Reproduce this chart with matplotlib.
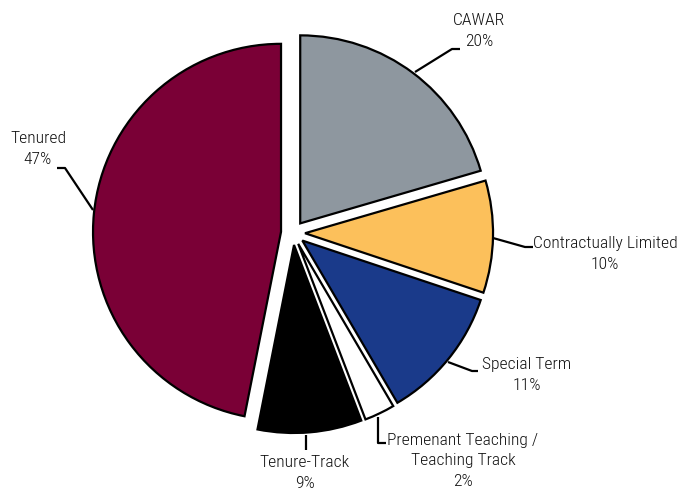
import os
import matplotlib
matplotlib.use("Agg")
import matplotlib.pyplot as plt
from matplotlib import font_manager as fm
from matplotlib.textpath import TextPath

categories = ["CAWAR", "Contractually Limited", "Special Term",
              "Premenant Teaching /\nTeaching Track", "Tenure-Track", "Tenured"]
values = [20.4, 9.6, 11.4, 2.6, 8.9, 46.7]
pct_labels = ["20%", "10%", "11%", "2%", "9%", "47%"]
colors = ["#8E979F", "#FCC05B", "#1A3A8A", "#FFFFFF", "#000000", "#7A0036"]

DPI = 100
REF_W = 142.0  # target pixel width of "Contractually Limited"


def width_px(fp, s):
    return TextPath((0, 0), s, prop=fp).get_extents().width * DPI / 72.0


# choose a condensed sans font, in order of preference (light weight first)
fname = None
for f in fm.fontManager.ttflist:
    if f.name == "Roboto Condensed" and f.style == "normal" and f.weight in (300, "light"):
        fname = f.fname
        break
if fname is None:
    preferred = ["Roboto Condensed", "Liberation Sans Narrow", "Open Sans Condensed",
                 "Noto Sans Condensed", "Arial Narrow"]
    names = {f.name: f for f in fm.fontManager.ttflist
             if f.style == "normal" and f.weight in (400, "normal", "regular")}
    for p in preferred:
        if p in names:
            fname = names[p].fname
            break
if fname is None:
    for f in fm.fontManager.ttflist:
        if os.path.basename(f.fname) == "DejaVuSansCondensed.ttf":
            fname = f.fname
            break

if fname is not None:
    base = fm.FontProperties(fname=fname, size=10)
else:
    base = fm.FontProperties(family="Roboto", size=10)
size = min(10 * REF_W / width_px(base, "Contractually Limited"), 13.5)
if fname is not None:
    fprop = fm.FontProperties(fname=fname, size=size)
else:
    fprop = fm.FontProperties(family=["Roboto", "DejaVu Sans"], size=size)

W, H = 684, 493
fig = plt.figure(figsize=(W / DPI, H / DPI), dpi=DPI)
ax = fig.add_axes([0, 0, 1, 1])

CX, CY, R = 293, 233, 188.0


def p2d(px, py):
    return ((px - CX) / R, (CY - py) / R)


ax.pie(values, colors=colors, startangle=90, counterclock=False,
       explode=[0.064] * len(values), radius=1.0,
       wedgeprops=dict(edgecolor="black", linewidth=1.6))

ax.set_xlim(-CX / R, (W - CX) / R)
ax.set_ylim(-(H - CY) / R, CY / R)
ax.set_aspect("equal")
ax.axis("off")

leaders = [
    [(415, 72), (452, 49), (460, 49)],
    [(493, 238), (525, 247), (533, 247)],
    [(448, 362), (472, 371), (478, 371)],
    [(378, 417), (378, 443), (386, 443)],
    [(306, 435), (306, 450)],
    [(93, 210), (65, 168), (57, 168)],
]
text_pos = [(479, 31), (605, 254), (527, 375), (463, 461), (305, 473), (38, 149)]

for pts, (tx, ty), name, pct in zip(leaders, text_pos, categories, pct_labels):
    xs, ys = zip(*[p2d(*p) for p in pts])
    ax.plot(xs, ys, color="black", lw=1.6, solid_capstyle="butt")
    x, y = p2d(tx, ty)
    ax.text(x, y, f"{name}\n{pct}", ha="center", va="center",
            fontproperties=fprop, linespacing=1.45, color="#111111")

fig.savefig("out.png", dpi=DPI)
